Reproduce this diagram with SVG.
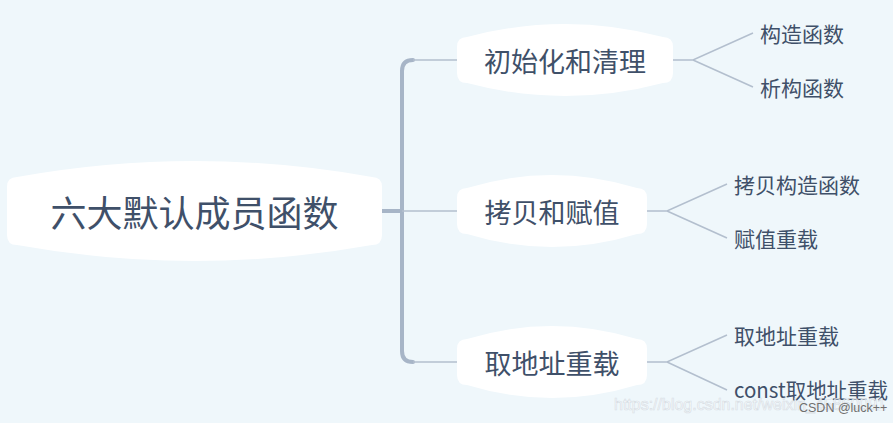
<svg xmlns="http://www.w3.org/2000/svg" width="893" height="423" viewBox="0 0 893 423">
<style>
.bg{fill:#eff7fb}
.node{fill:#ffffff}
.t{font-family:"Noto Sans CJK SC","Noto Sans",sans-serif;fill:#3f5069;dominant-baseline:central}
.trunk{fill:none;stroke:#a7b5c7;stroke-width:4;stroke-linecap:round}
.thin{fill:none;stroke:#b3bfce;stroke-width:1.6}
.wm{font-family:"Liberation Sans",Arial,sans-serif}
</style>
<rect class="bg" x="0" y="0" width="893" height="423"/>
<g id="connectors">
<path class="trunk" d="M382,211 L402,211"/>
<path class="trunk" d="M413,60 Q402,60 402,71 L402,351 Q402,362 413,362"/>
<path class="thin" d="M413,60 L457,60"/>
<path class="thin" d="M402,211 L457,211"/>
<path class="thin" d="M413,362 L457,362"/>
<path class="thin" d="M673,60 L693,60 L753,33 M693,60 L753,87"/>
<path class="thin" d="M647,211 L667,211 L727,184 M667,211 L727,238"/>
<path class="thin" d="M647,362 L667,362 L727,335 M667,362 L727,390"/>
</g>
<g id="root">
<path class="node" d="M17,177 Q194.5,145 372,177 Q382,177 382,187 L382,235 Q382,245 372,245 Q194.5,277 17,245 Q7,245 7,235 L7,187 Q7,177 17,177 Z"/>
<text class="t" x="194.5" y="211" font-size="36" text-anchor="middle">六大默认成员函数</text>
</g>
<g id="n1">
<path class="node" d="M467,37 Q565,11 663,37 Q673,37 673,47 L673,73 Q673,83 663,83 Q565,109 467,83 Q457,83 457,73 L457,47 Q457,37 467,37 Z"/>
<text class="t" x="565" y="60" font-size="27" text-anchor="middle">初始化和清理</text>
</g>
<g id="n2">
<path class="node" d="M467,188 Q552,162 637,188 Q647,188 647,198 L647,224 Q647,234 637,234 Q552,260 467,234 Q457,234 457,224 L457,198 Q457,188 467,188 Z"/>
<text class="t" x="552" y="211" font-size="27" text-anchor="middle">拷贝和赋值</text>
</g>
<g id="n3">
<path class="node" d="M467,339 Q552,313 637,339 Q647,339 647,349 L647,375 Q647,385 637,385 Q552,411 467,385 Q457,385 457,375 L457,349 Q457,339 467,339 Z"/>
<text class="t" x="552" y="362" font-size="27" text-anchor="middle">取地址重载</text>
</g>
<g id="n1a"><text class="t" x="760" y="33" font-size="21">构造函数</text></g>
<g id="n1b"><text class="t" x="760" y="87" font-size="21">析构函数</text></g>
<g id="n2a"><text class="t" x="734" y="184" font-size="21">拷贝构造函数</text></g>
<g id="n2b"><text class="t" x="734" y="238" font-size="21">赋值重载</text></g>
<g id="n3a"><text class="t" x="734" y="335" font-size="21">取地址重载</text></g>
<g id="n3b"><text class="t" x="734" y="389" font-size="21" textLength="154" lengthAdjust="spacingAndGlyphs">const取地址重载</text></g>
<text class="wm" x="614" y="410" font-size="16.5" textLength="272" lengthAdjust="spacingAndGlyphs" fill="#ffffff" fill-opacity="0.8" stroke="#b9c2cc" stroke-opacity="0.5" stroke-width="0.7">https://blog.csdn.net/weixin_45860091</text>
<text class="wm" x="799" y="412" font-size="12.5" fill="#6f6f6f">CSDN @luck++</text>
</svg>
